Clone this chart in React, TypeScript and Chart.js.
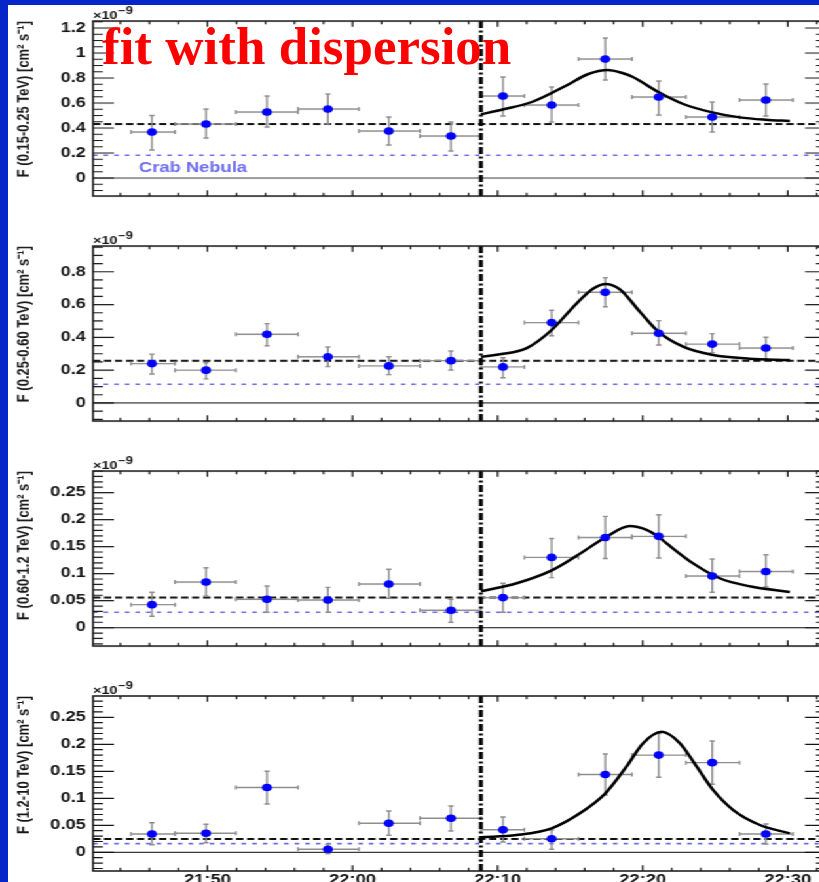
import React, { useEffect, useRef } from 'react';
import { Chart, registerables } from 'chart.js';

Chart.register(...registerables);

// ---------- layout constants ----------
const STRETCH = 1.31; // the original figure is stretched horizontally
const INNER_W = 640;
const PAD_TOP = 20;
const PAD_BOTTOM = 22;
const FRAME_H = 175;
const AXIS_W = 71;
const RIGHT_PAD = 9.5;
const FONT = "'Liberation Sans', Arial, Helvetica, sans-serif";
const BLUE_LINE = '#6b6bef';
const POINT_BLUE = '#0000ff';
const ERR_GRAY = '#8e8e8e';

// ---------- x axis (minutes after 21:00) ----------
const X_MIN = 42.11;
const X_MAX = 92.63;
const X_TICK_VALUES = [50, 60, 70, 80, 90];
const X_TICK_LABELS = ['21:50', '22:00', '22:10', '22:20', '22:30'];
const FLARE_START = 68.85;

// bin centres and edges (minutes after 21:00)
const BIN_TIMES = [46.17, 49.9, 54.1, 58.3, 62.5, 66.78, 70.37, 73.72, 77.42, 81.1, 84.79, 88.49];
const BIN_LOW = [44.73, 47.76, 51.96, 56.24, 60.44, 64.65, 68.85, 71.85, 75.57, 79.26, 82.98, 86.67];
const BIN_HIGH = [47.76, 51.96, 56.24, 60.44, 64.65, 68.85, 71.85, 75.57, 79.26, 82.98, 86.67, 90.35];

// ---------- panel 1 : 0.15-0.25 TeV ----------
const FLUX_1 = [0.368, 0.432, 0.528, 0.552, 0.376, 0.336, 0.656, 0.584, 0.952, 0.648, 0.488, 0.624];
const FLUX_1_HI = [0.5, 0.552, 0.656, 0.672, 0.488, 0.448, 0.808, 0.728, 1.12, 0.776, 0.608, 0.752];
const FLUX_1_LO = [0.224, 0.32, 0.408, 0.432, 0.264, 0.216, 0.496, 0.448, 0.784, 0.504, 0.368, 0.496];
const FIT_1_T = [68.85, 70.4, 72.4, 74.8, 76.2, 77.6, 78.6, 79.3, 81.05, 82.8, 84.8, 86.7, 88.5, 90.14];
const FIT_1_F = [0.51, 0.55, 0.61, 0.744, 0.83, 0.864, 0.84, 0.81, 0.69, 0.592, 0.525, 0.485, 0.466, 0.456];
const MEAN_1 = 0.432;
const CRAB_1 = 0.182;
const Y_TICKS_1 = [0, 0.2, 0.4, 0.6, 0.8, 1, 1.2];
const Y_LABELS_1 = ['0', '0.2', '0.4', '0.6', '0.8', '1', '1.2'];

// ---------- panel 2 : 0.25-0.60 TeV ----------
const FLUX_2 = [0.24, 0.2, 0.419, 0.282, 0.226, 0.258, 0.22, 0.49, 0.675, 0.425, 0.359, 0.335];
const FLUX_2_HI = [0.298, 0.245, 0.484, 0.341, 0.282, 0.317, 0.276, 0.565, 0.764, 0.502, 0.423, 0.401];
const FLUX_2_LO = [0.177, 0.147, 0.349, 0.222, 0.173, 0.201, 0.154, 0.41, 0.587, 0.353, 0.307, 0.27];
const FIT_2_T = [68.85, 70.16, 72.0, 73.72, 75.44, 76.59, 77.44, 78.43, 79.8, 81.1, 82.79, 84.86, 87.39, 90.14];
const FIT_2_F = [0.282, 0.297, 0.334, 0.445, 0.607, 0.698, 0.726, 0.693, 0.557, 0.433, 0.343, 0.292, 0.27, 0.262];
const MEAN_2 = 0.258;
const CRAB_2 = 0.114;
const Y_TICKS_2 = [0, 0.2, 0.4, 0.6, 0.8];
const Y_LABELS_2 = ['0', '0.2', '0.4', '0.6', '0.8'];

// ---------- panel 3 : 0.60-1.2 TeV ----------
const FLUX_3 = [0.0426, 0.0846, 0.0526, 0.0513, 0.0809, 0.0322, 0.0556, 0.13, 0.167, 0.169, 0.0957, 0.104];
const FLUX_3_HI = [0.0655, 0.111, 0.0772, 0.0746, 0.108, 0.0526, 0.0822, 0.165, 0.206, 0.209, 0.127, 0.135];
const FLUX_3_LO = [0.0211, 0.0587, 0.0285, 0.0285, 0.0544, 0.01, 0.0285, 0.0926, 0.128, 0.129, 0.0656, 0.076];
const FIT_3_T = [68.85, 71.31, 73.72, 75.44, 77.42, 79.12, 80.27, 81.1, 81.65, 83.48, 85.32, 87.39, 90.14];
const FIT_3_F = [0.0674, 0.0822, 0.106, 0.133, 0.167, 0.188, 0.181, 0.168, 0.156, 0.119, 0.0914, 0.0765, 0.0661];
const MEAN_3 = 0.0556;
const CRAB_3 = 0.0285;
const Y_TICKS_3 = [0, 0.05, 0.1, 0.15, 0.2, 0.25];
const Y_LABELS_3 = ['0', '0.05', '0.1', '0.15', '0.2', '0.25'];

// ---------- panel 4 : 1.2-10 TeV ----------
const FLUX_4 = [0.0339, 0.0352, 0.12, 0.0056, 0.0537, 0.063, 0.0419, 0.0252, 0.144, 0.18, 0.166, 0.0339];
const FLUX_4_HI = [0.0548, 0.0519, 0.15, 0.0148, 0.0765, 0.0857, 0.0654, 0.0413, 0.182, 0.22, 0.206, 0.0524];
const FLUX_4_LO = [0.0141, 0.0178, 0.0894, -0.0026, 0.0315, 0.0394, 0.019, 0.0056, 0.106, 0.139, 0.126, 0.0154];
const FIT_4_T = [68.85, 71.31, 73.72, 75.67, 77.42, 78.89, 80.03, 81.3, 82.56, 83.71, 84.86, 86.24, 88.08, 90.14];
const FIT_4_F = [0.0278, 0.032, 0.0444, 0.0722, 0.109, 0.159, 0.202, 0.223, 0.202, 0.159, 0.115, 0.0783, 0.0506, 0.0352];
const MEAN_4 = 0.0246;
const CRAB_4 = 0.016;

const CRAB_LABEL = 'Crab Nebula';
const CRAB_LABEL_T = 45.28;
const CRAB_LABEL_F = 0.05;

interface PanelCfg {
  frameTop: number;
  yMin: number;
  yMax: number;
  yTicks: number[];
  yLabels: string[];
  minorStep: number;
  title: string;
  flux: number[];
  hi: number[];
  lo: number[];
  fitT: number[];
  fitF: number[];
  mean: number;
  crab: number;
  crabLabel: boolean;
  bottom: boolean;
}

const PANELS: PanelCfg[] = [
  {
    frameTop: 21, yMin: -0.144, yMax: 1.256, yTicks: Y_TICKS_1, yLabels: Y_LABELS_1, minorStep: 0.05,
    title: 'F (0.15-0.25 TeV) [cm² s⁻¹]', flux: FLUX_1, hi: FLUX_1_HI, lo: FLUX_1_LO,
    fitT: FIT_1_T, fitF: FIT_1_F, mean: MEAN_1, crab: CRAB_1, crabLabel: true, bottom: false,
  },
  {
    frameTop: 246, yMin: -0.11, yMax: 0.957, yTicks: Y_TICKS_2, yLabels: Y_LABELS_2, minorStep: 0.05,
    title: 'F (0.25-0.60 TeV) [cm² s⁻¹]', flux: FLUX_2, hi: FLUX_2_HI, lo: FLUX_2_LO,
    fitT: FIT_2_T, fitF: FIT_2_F, mean: MEAN_2, crab: CRAB_2, crabLabel: false, bottom: false,
  },
  {
    frameTop: 471, yMin: -0.034, yMax: 0.29, yTicks: Y_TICKS_3, yLabels: Y_LABELS_3, minorStep: 0.01,
    title: 'F (0.60-1.2 TeV) [cm² s⁻¹]', flux: FLUX_3, hi: FLUX_3_HI, lo: FLUX_3_LO,
    fitT: FIT_3_T, fitF: FIT_3_F, mean: MEAN_3, crab: CRAB_3, crabLabel: false, bottom: false,
  },
  {
    frameTop: 696, yMin: -0.0346, yMax: 0.2894, yTicks: Y_TICKS_3, yLabels: Y_LABELS_3, minorStep: 0.01,
    title: 'F (1.2-10 TeV) [cm² s⁻¹]', flux: FLUX_4, hi: FLUX_4_HI, lo: FLUX_4_LO,
    fitT: FIT_4_T, fitF: FIT_4_F, mean: MEAN_4, crab: CRAB_4, crabLabel: false, bottom: true,
  },
];

function makeDecor(p: PanelCfg) {
  return {
    id: 'decor',
    beforeDatasetsDraw(chart: any) {
      const { ctx, chartArea: a, scales } = chart;
      const xs = scales.x;
      const ys = scales.y;
      ctx.save();
      ctx.beginPath();
      ctx.rect(a.left, a.top, a.right - a.left, a.bottom - a.top);
      ctx.clip();
      const hline = (v: number, color: string, lw: number, dash: number[]) => {
        const py = ys.getPixelForValue(v);
        ctx.strokeStyle = color;
        ctx.lineWidth = lw;
        ctx.setLineDash(dash);
        ctx.beginPath();
        ctx.moveTo(a.left, py);
        ctx.lineTo(a.right, py);
        ctx.stroke();
      };
      hline(0, '#3a3a3a', 1.2, []);
      hline(p.crab, BLUE_LINE, 1.6, [3.5, 4.6]);
      hline(p.mean, '#111111', 2, [5.6, 2.8]);

      // error bars
      ctx.setLineDash([]);
      ctx.strokeStyle = ERR_GRAY;
      ctx.lineWidth = 1.4;
      for (let i = 0; i < p.flux.length; i++) {
        const px = xs.getPixelForValue(BIN_TIMES[i]);
        const py = ys.getPixelForValue(p.flux[i]);
        const xl = xs.getPixelForValue(BIN_LOW[i]);
        const xh = xs.getPixelForValue(BIN_HIGH[i]);
        const yh = ys.getPixelForValue(p.hi[i]);
        const yl = ys.getPixelForValue(p.lo[i]);
        ctx.beginPath();
        ctx.moveTo(xl, py); ctx.lineTo(xh, py);
        ctx.moveTo(xl, py - 2); ctx.lineTo(xl, py + 2);
        ctx.moveTo(xh, py - 2); ctx.lineTo(xh, py + 2);
        ctx.moveTo(px, yh); ctx.lineTo(px, yl);
        ctx.moveTo(px - 2, yh); ctx.lineTo(px + 2, yh);
        ctx.moveTo(px - 2, yl); ctx.lineTo(px + 2, yl);
        ctx.stroke();
      }

      // flare start marker
      const fx = xs.getPixelForValue(FLARE_START);
      ctx.strokeStyle = '#000';
      ctx.lineWidth = 3;
      ctx.setLineDash([7, 2.5, 2, 2.5]);
      ctx.beginPath();
      ctx.moveTo(fx, a.top);
      ctx.lineTo(fx, a.bottom);
      ctx.stroke();
      ctx.restore();
    },
    afterDraw(chart: any) {
      const { ctx, chartArea: a, scales } = chart;
      const xs = scales.x;
      const ys = scales.y;
      ctx.save();
      ctx.setLineDash([]);
      ctx.strokeStyle = '#151515';
      // y ticks (left and right, inward)
      ctx.lineWidth = 1.2;
      const kMin = Math.ceil(p.yMin / p.minorStep - 1e-6);
      const kMax = Math.floor(p.yMax / p.minorStep + 1e-6);
      const majorStep = p.yTicks[1] - p.yTicks[0];
      ctx.beginPath();
      for (let k = kMin; k <= kMax; k++) {
        const v = k * p.minorStep;
        const r = v / majorStep;
        const isMajor = Math.abs(r - Math.round(r)) < 1e-6;
        const len = isMajor ? 16 : 7.6;
        const py = ys.getPixelForValue(v);
        ctx.moveTo(a.left, py); ctx.lineTo(a.left + len, py);
        ctx.moveTo(a.right, py); ctx.lineTo(a.right - len, py);
      }
      // x ticks (top and bottom, inward)
      for (let k = Math.ceil(X_MIN / 2); k <= Math.floor(X_MAX / 2); k++) {
        const v = 2 * k;
        const len = v % 10 === 0 ? 5.7 : 3.3;
        const px = xs.getPixelForValue(v);
        ctx.moveTo(px, a.top); ctx.lineTo(px, a.top + len);
        ctx.moveTo(px, a.bottom); ctx.lineTo(px, a.bottom - len);
      }
      ctx.stroke();
      // frame
      ctx.lineWidth = 1.5;
      ctx.strokeRect(a.left, a.top, a.right - a.left, a.bottom - a.top);

      // exponent label
      ctx.fillStyle = '#151515';
      ctx.textAlign = 'left';
      ctx.textBaseline = 'alphabetic';
      ctx.font = `bold 11px ${FONT}`;
      ctx.fillText('×10', a.left, a.top - 2);
      const w = ctx.measureText('×10').width;
      ctx.font = `bold 10px ${FONT}`;
      ctx.fillText('−9', a.left + w + 0.5, a.top - 7);

      if (p.crabLabel) {
        ctx.fillStyle = BLUE_LINE;
        ctx.font = `bold 14px ${FONT}`;
        ctx.fillText(CRAB_LABEL, xs.getPixelForValue(CRAB_LABEL_T), ys.getPixelForValue(CRAB_LABEL_F));
      }
      ctx.restore();
    },
  };
}

function Panel({ p }: { p: PanelCfg }) {
  const ref = useRef<HTMLCanvasElement>(null);
  const height = PAD_TOP + FRAME_H + (p.bottom ? 30 : PAD_BOTTOM);
  useEffect(() => {
    const canvas = ref.current;
    if (!canvas) return;
    const chart = new Chart(canvas, {
      type: 'scatter',
      data: {
        datasets: [
          {
            type: 'scatter',
            data: BIN_TIMES.map((t, i) => ({ x: t, y: p.flux[i] })),
            pointStyle: 'circle',
            pointRadius: 3.8,
            pointBackgroundColor: POINT_BLUE,
            pointBorderWidth: 0,
            borderWidth: 0,
          } as any,
          {
            type: 'line',
            data: p.fitT.map((t, i) => ({ x: t, y: p.fitF[i] })),
            borderColor: '#000',
            borderWidth: 2.5,
            pointRadius: 0,
            cubicInterpolationMode: 'monotone',
            fill: false,
            showLine: true,
          } as any,
        ],
      },
      options: {
        responsive: false,
        animation: false,
        maintainAspectRatio: false,
        events: [],
        layout: { padding: { top: PAD_TOP, left: 0, right: RIGHT_PAD, bottom: p.bottom ? 0 : PAD_BOTTOM } },
        plugins: { legend: { display: false }, tooltip: { enabled: false } },
        scales: {
          x: {
            type: 'linear',
            min: X_MIN,
            max: X_MAX,
            display: p.bottom,
            grid: { display: false, drawTicks: false },
            border: { display: false },
            afterBuildTicks: (s: any) => {
              s.ticks = X_TICK_VALUES.map((v) => ({ value: v }));
            },
            afterFit: (s: any) => {
              s.height = p.bottom ? 30 : 0;
            },
            ticks: {
              autoSkip: false,
              maxRotation: 0,
              padding: 1,
              color: '#151515',
              font: { family: FONT, size: 14, weight: 'bold' },
              callback: (v: any) => X_TICK_LABELS[X_TICK_VALUES.indexOf(Number(v))] ?? '',
            },
          },
          y: {
            type: 'linear',
            min: p.yMin,
            max: p.yMax,
            grid: { display: false, drawTicks: false },
            border: { display: false },
            afterBuildTicks: (s: any) => {
              s.ticks = p.yTicks.map((v) => ({ value: v }));
            },
            afterFit: (s: any) => {
              s.width = AXIS_W;
            },
            ticks: {
              autoSkip: false,
              padding: 5.4,
              color: '#151515',
              font: { family: FONT, size: 14, weight: 'bold' },
              callback: (v: any) => {
                const idx = p.yTicks.findIndex((t) => Math.abs(t - Number(v)) < 1e-9);
                return idx >= 0 ? p.yLabels[idx] : '';
              },
            },
            title: {
              display: true,
              text: p.title,
              align: 'end',
              color: '#151515',
              font: { family: FONT, size: 13, weight: 'bold' },
              padding: { top: 10.5, bottom: 0 },
            },
          },
        },
      } as any,
      plugins: [makeDecor(p)],
    });
    return () => chart.destroy();
  }, []);
  return (
    <canvas
      ref={ref}
      width={INNER_W}
      height={height}
      style={{ position: 'absolute', left: 0, top: p.frameTop - PAD_TOP, width: INNER_W, height }}
    />
  );
}

export default function App() {
  return (
    <div
      style={{
        position: 'fixed', left: 0, top: 0, width: 819, height: 882, overflow: 'hidden',
        background: '#0726c9',
      }}
    >
      <div style={{ position: 'absolute', left: 8, top: 5, right: 0, bottom: 0, background: '#ffffff' }} />
      <div
        style={{
          position: 'absolute', left: 0, top: 0, width: INNER_W, height: 882,
          transform: `scaleX(${STRETCH})`, transformOrigin: '0 0',
        }}
      >
        {PANELS.map((p, i) => (
          <Panel key={i} p={p} />
        ))}
      </div>
      <div
        style={{
          position: 'absolute', left: 102, top: 20, fontFamily: "'Liberation Serif', 'Times New Roman', serif",
          fontWeight: 'bold', fontSize: 53, lineHeight: '52px', color: '#ff0000', whiteSpace: 'nowrap',
        }}
      >
        fit with dispersion
      </div>
    </div>
  );
}
